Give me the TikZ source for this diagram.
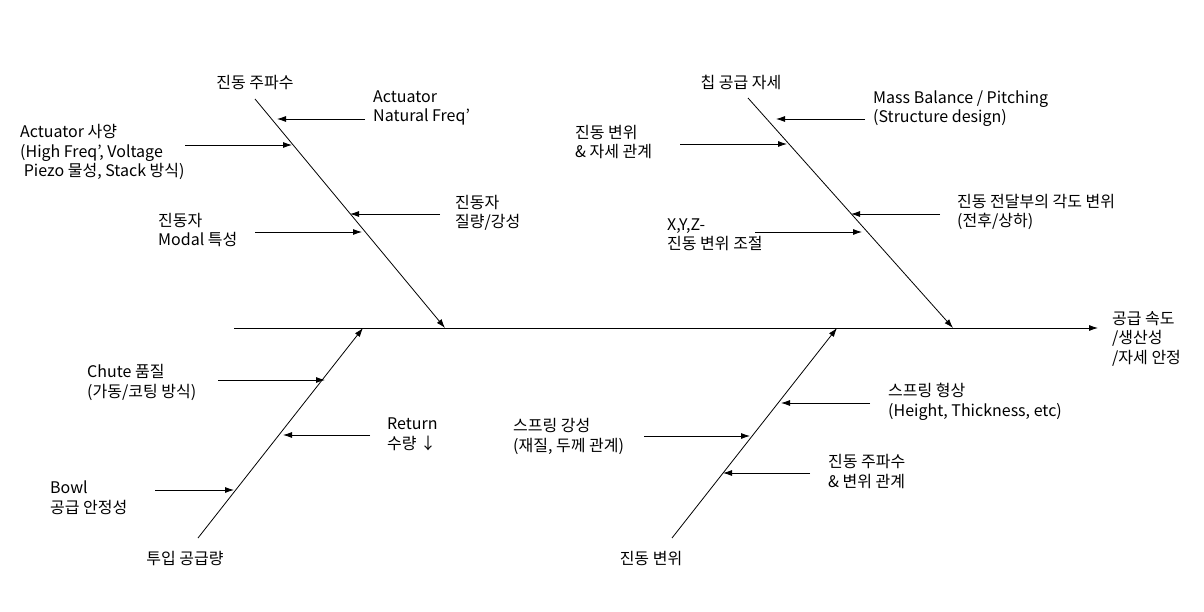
\documentclass[tikz,border=0pt]{standalone}
\usepackage{fontspec}
\setmainfont{Noto Sans CJK KR}
\usetikzlibrary{arrows.meta}
\begin{document}
\begin{tikzpicture}[x=1pt,y=-1pt,
  lbl/.style={anchor=base west, inner sep=0pt, align=left, font=\fontsize{16}{19.5}\selectfont},
  ctr/.style={anchor=base, inner sep=0pt, font=\fontsize{16}{19.5}\selectfont},
  bone/.style={line width=0.8pt, -{Latex[length=9pt,width=6pt]}},
  sub/.style={line width=0.8pt, -{Latex[length=9pt,width=6pt]}}]
\fill[white] (0,0) rectangle (1204,612);
\useasboundingbox (0,0) rectangle (1204,612);

% spine
\coordinate (tail) at (234,328);
\coordinate (head) at (1098,328);
\draw[bone] (tail) -- (head);
\node[lbl] (effect) at (1112,363) {공급 속도\\/생산성\\/자세 안정};

% bones
\coordinate (b1s) at (255,99);  \coordinate (b1e) at (445,328);
\coordinate (b2s) at (748,98);  \coordinate (b2e) at (953,328);
\coordinate (b3s) at (198,538); \coordinate (b3e) at (363,328);
\coordinate (b4s) at (672,538); \coordinate (b4e) at (837,328);
\draw[bone] (b1s) -- (b1e);
\draw[bone] (b2s) -- (b2e);
\draw[bone] (b3s) -- (b3e);
\draw[bone] (b4s) -- (b4e);

% category labels
\node[ctr] (c1) at (255,89) {진동 주파수};
\node[ctr] (c2) at (741,89) {칩 공급 자세};
\node[ctr] (c3) at (185,564) {투입 공급량};
\node[ctr] (c4) at (651,564) {진동 변위};

% upper-left causes
\node[lbl] (t1) at (373,122) {Actuator\\Natural Freq’};
\coordinate (a1s) at (365,119); \coordinate (a1e) at (277,119);
\draw[sub] (a1s) -- (a1e);

\node[lbl] (t2) at (20,177) {Actuator 사양\\(High Freq’, Voltage\\\ Piezo 물성, Stack 방식)};
\coordinate (a2s) at (185,145); \coordinate (a2e) at (292,145);
\draw[sub] (a2s) -- (a2e);

\node[lbl] (t3) at (455,228) {진동자\\질량/강성};
\coordinate (a3s) at (440,214); \coordinate (a3e) at (350,214);
\draw[sub] (a3s) -- (a3e);

\node[lbl] (t4) at (158,246) {진동자\\Modal 특성};
\coordinate (a4s) at (255,232); \coordinate (a4e) at (362,232);
\draw[sub] (a4s) -- (a4e);

% upper-right causes
\node[lbl] (t5) at (873,123) {Mass Balance / Pitching\\(Structure design)};
\coordinate (a5s) at (865,119); \coordinate (a5e) at (776,119);
\draw[sub] (a5s) -- (a5e);

\node[lbl] (t6) at (575,158) {진동 변위\\\& 자세 관계};
\coordinate (a6s) at (680,144); \coordinate (a6e) at (787,144);
\draw[sub] (a6s) -- (a6e);

\node[lbl] (t7) at (957,227) {진동 전달부의 각도 변위\\(전후/상하)};
\coordinate (a7s) at (940,214); \coordinate (a7e) at (851,214);
\draw[sub] (a7s) -- (a7e);

\node[lbl] (t8) at (667,250) {X,Y,Z-\\진동 변위 조절};
\coordinate (a8s) at (755,232); \coordinate (a8e) at (862,232);
\draw[sub] (a8s) -- (a8e);

% lower-left causes
\node[lbl] (t9) at (87,397) {Chute 품질\\(가동/코팅 방식)};
\coordinate (a9s) at (218,380); \coordinate (a9e) at (325,380);
\draw[sub] (a9s) -- (a9e);

\node[lbl] (t10) at (387,449) {Return\\수량 ↓};
\coordinate (a10s) at (370,435); \coordinate (a10e) at (283,435);
\draw[sub] (a10s) -- (a10e);

\node[lbl] (t11) at (50,513) {Bowl\\공급 안정성};
\coordinate (a11s) at (155,490); \coordinate (a11e) at (234,490);
\draw[sub] (a11s) -- (a11e);

% lower-right causes
\node[lbl] (t12) at (888,416) {스프링 형상\\(Height, Thickness, etc)};
\coordinate (a12s) at (870,403); \coordinate (a12e) at (781,403);
\draw[sub] (a12s) -- (a12e);

\node[lbl] (t13) at (513,451) {스프링 강성\\(재질, 두께 관계)};
\coordinate (a13s) at (644,436); \coordinate (a13e) at (750,436);
\draw[sub] (a13s) -- (a13e);

\node[lbl] (t14) at (828,487) {진동 주파수\\\& 변위 관계};
\coordinate (a14s) at (810,473); \coordinate (a14e) at (723,473);
\draw[sub] (a14s) -- (a14e);
\end{tikzpicture}
\end{document}
